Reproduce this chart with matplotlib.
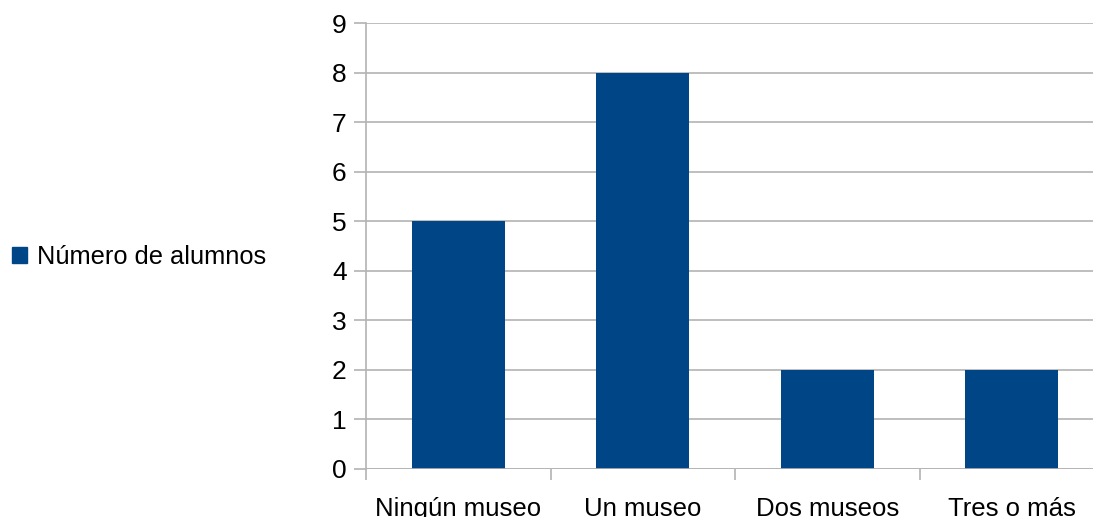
import matplotlib.pyplot as plt
from matplotlib.patches import Patch

categorias = ["Ningún museo", "Un museo", "Dos museos", "Tres o más"]
alumnos = [5, 8, 2, 2]
serie = "Número de alumnos"
BAR = "#004586"
GRID = "#b3b3b3"

plt.rcParams['font.family'] = ['Liberation Sans', 'DejaVu Sans']

fig = plt.figure(figsize=(10.93, 5.17), dpi=100)
W, H = 1093, 517
left, right, top, bottom = 366, 1104, 23, 469
ax = fig.add_axes([left / W, 1 - bottom / H, (right - left) / W, (bottom - top) / H])

x = range(len(categorias))
ax.bar(x, alumnos, width=0.505, color=BAR, zorder=3)
ax.set_xlim(-0.5, len(categorias) - 0.5)
ax.set_ylim(0, 9)
ax.set_yticks(range(0, 10))
ax.grid(axis='y', color=GRID, linewidth=1.2, zorder=0)

for s in ['top', 'right', 'bottom']:
    ax.spines[s].set_visible(False)
ax.spines['left'].set_color(GRID)
ax.spines['left'].set_linewidth(1.2)
ax.axhline(0, color=GRID, linewidth=1.2, zorder=4)

# boundary ticks between categories, labels centred under bars
ax.set_xticks([i + 0.5 for i in range(-1, len(categorias))], minor=False)
ax.set_xticklabels([])
ax.set_xticks(list(x), minor=True)
ax.set_xticklabels(categorias, minor=True)
ax.tick_params(axis='x', which='major', length=8, width=1.2, color=GRID, direction='out')
ax.tick_params(axis='x', which='minor', length=0, pad=20, labelsize=18.5)
ax.tick_params(axis='y', length=9, width=1.2, color=GRID, pad=5, labelsize=19)

fig.legend(handles=[Patch(color=BAR, label=serie)], loc='center left',
           bbox_to_anchor=(0.0015, 1 - 257 / H), frameon=False, fontsize=18.3,
           handlelength=0.6, handleheight=0.6, handletextpad=0.4, borderaxespad=0)

fig.savefig("out.png", dpi=100)
